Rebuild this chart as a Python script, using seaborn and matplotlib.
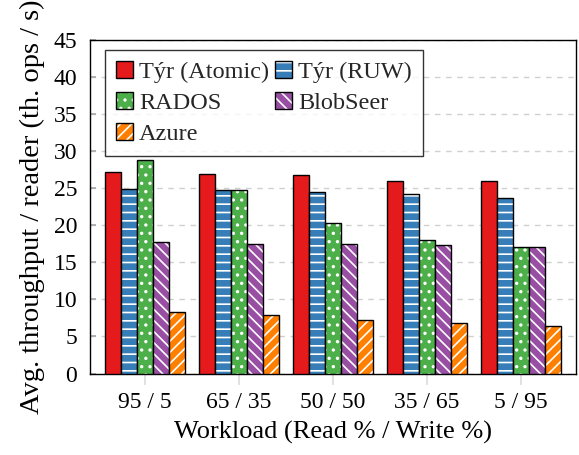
import numpy as np
import pandas as pd
import matplotlib
matplotlib.use("Agg")
import matplotlib.pyplot as plt
import seaborn as sns

# Data
workloads = ["95 / 5", "65 / 35", "50 / 50", "35 / 65", "5 / 95"]
systems = ["Týr (Atomic)", "Týr (RUW)", "RADOS", "BlobSeer", "Azure"]
tyr_atomic = [27.2, 26.9, 26.7, 26.0, 25.9]
tyr_ruw = [24.9, 24.7, 24.5, 24.2, 23.6]
rados = [28.8, 24.8, 20.3, 18.0, 17.0]
blobseer = [17.7, 17.5, 17.5, 17.3, 17.0]
azure = [8.3, 7.9, 7.2, 6.8, 6.4]

colors = ["#e41a1c", "#377eb8", "#4daf4a", "#984ea3", "#ff7f00"]
hatches = ["", "--", "..", "\\\\\\", "///"]

df = pd.DataFrame({
    "workload": workloads * 5,
    "system": np.repeat(systems, len(workloads)),
    "value": tyr_atomic + tyr_ruw + rados + blobseer + azure,
})

sns.set_theme(style="white")
plt.rcParams["font.family"] = ["Liberation Serif", "DejaVu Serif"]
plt.rcParams["hatch.linewidth"] = 1.2
plt.rcParams["hatch.color"] = "white"

fig = plt.figure(figsize=(5.79, 4.55), dpi=100)
ax = fig.add_axes([0.155, 0.179, 0.839, 0.734])

sns.barplot(data=df, x="workload", y="value", hue="system", order=workloads,
            hue_order=systems, palette=colors, width=0.85, gap=0,
            saturation=1, legend=False, ax=ax, zorder=3)

# hatch in white, outline in black
for cont, hatch in zip(ax.containers, hatches):
    for p in cont.patches:
        p.set_hatch(hatch)
        p.set_edgecolor("black")
        p.set_linewidth(1.0)
        p._hatch_color = (1, 1, 1, 1)

ax.set_ylim(0, 45)
ax.set_xlim(-0.585, 4.58)
ax.set_yticks(range(0, 46, 5))
ax.yaxis.grid(True, linestyle=(0, (4, 4)), color="#d0d0d0", linewidth=1.0, zorder=0)
ax.set_axisbelow(True)

for s in ax.spines.values():
    s.set_color("black")
    s.set_linewidth(1.0)

ax.tick_params(axis="y", direction="in", length=4, color="#aaaaaa", labelsize=17, left=True, pad=9)
ax.tick_params(axis="x", direction="out", length=8, color="#dddddd", labelsize=17, bottom=True, pad=5)

ax.set_xlabel("Workload (Read % / Write %)", fontsize=19, color="black", labelpad=6)
ax.set_ylabel("Avg. throughput / reader (th. ops / s)", fontsize=20.5, color="black", labelpad=6)
ax.tick_params(labelcolor="black")

# row-wise legend order for 2 columns
order = [0, 2, 4, 1, 3]
handles = [ax.containers[i].patches[0] for i in order]
labels = [systems[i] for i in order]
leg = ax.legend(handles, labels, ncol=2, loc="upper left", bbox_to_anchor=(0.031, 0.969),
                borderaxespad=0, fontsize=17.5, frameon=True, fancybox=False,
                handlelength=0.7, handleheight=0.7, handletextpad=0.25,
                columnspacing=0.25, labelspacing=0.38, borderpad=0.45)
leg.get_frame().set_edgecolor("black")
leg.get_frame().set_linewidth(1.0)
for h in leg.legend_handles:
    h._hatch_color = (1, 1, 1, 1)

fig.savefig("out.png", dpi=100)
